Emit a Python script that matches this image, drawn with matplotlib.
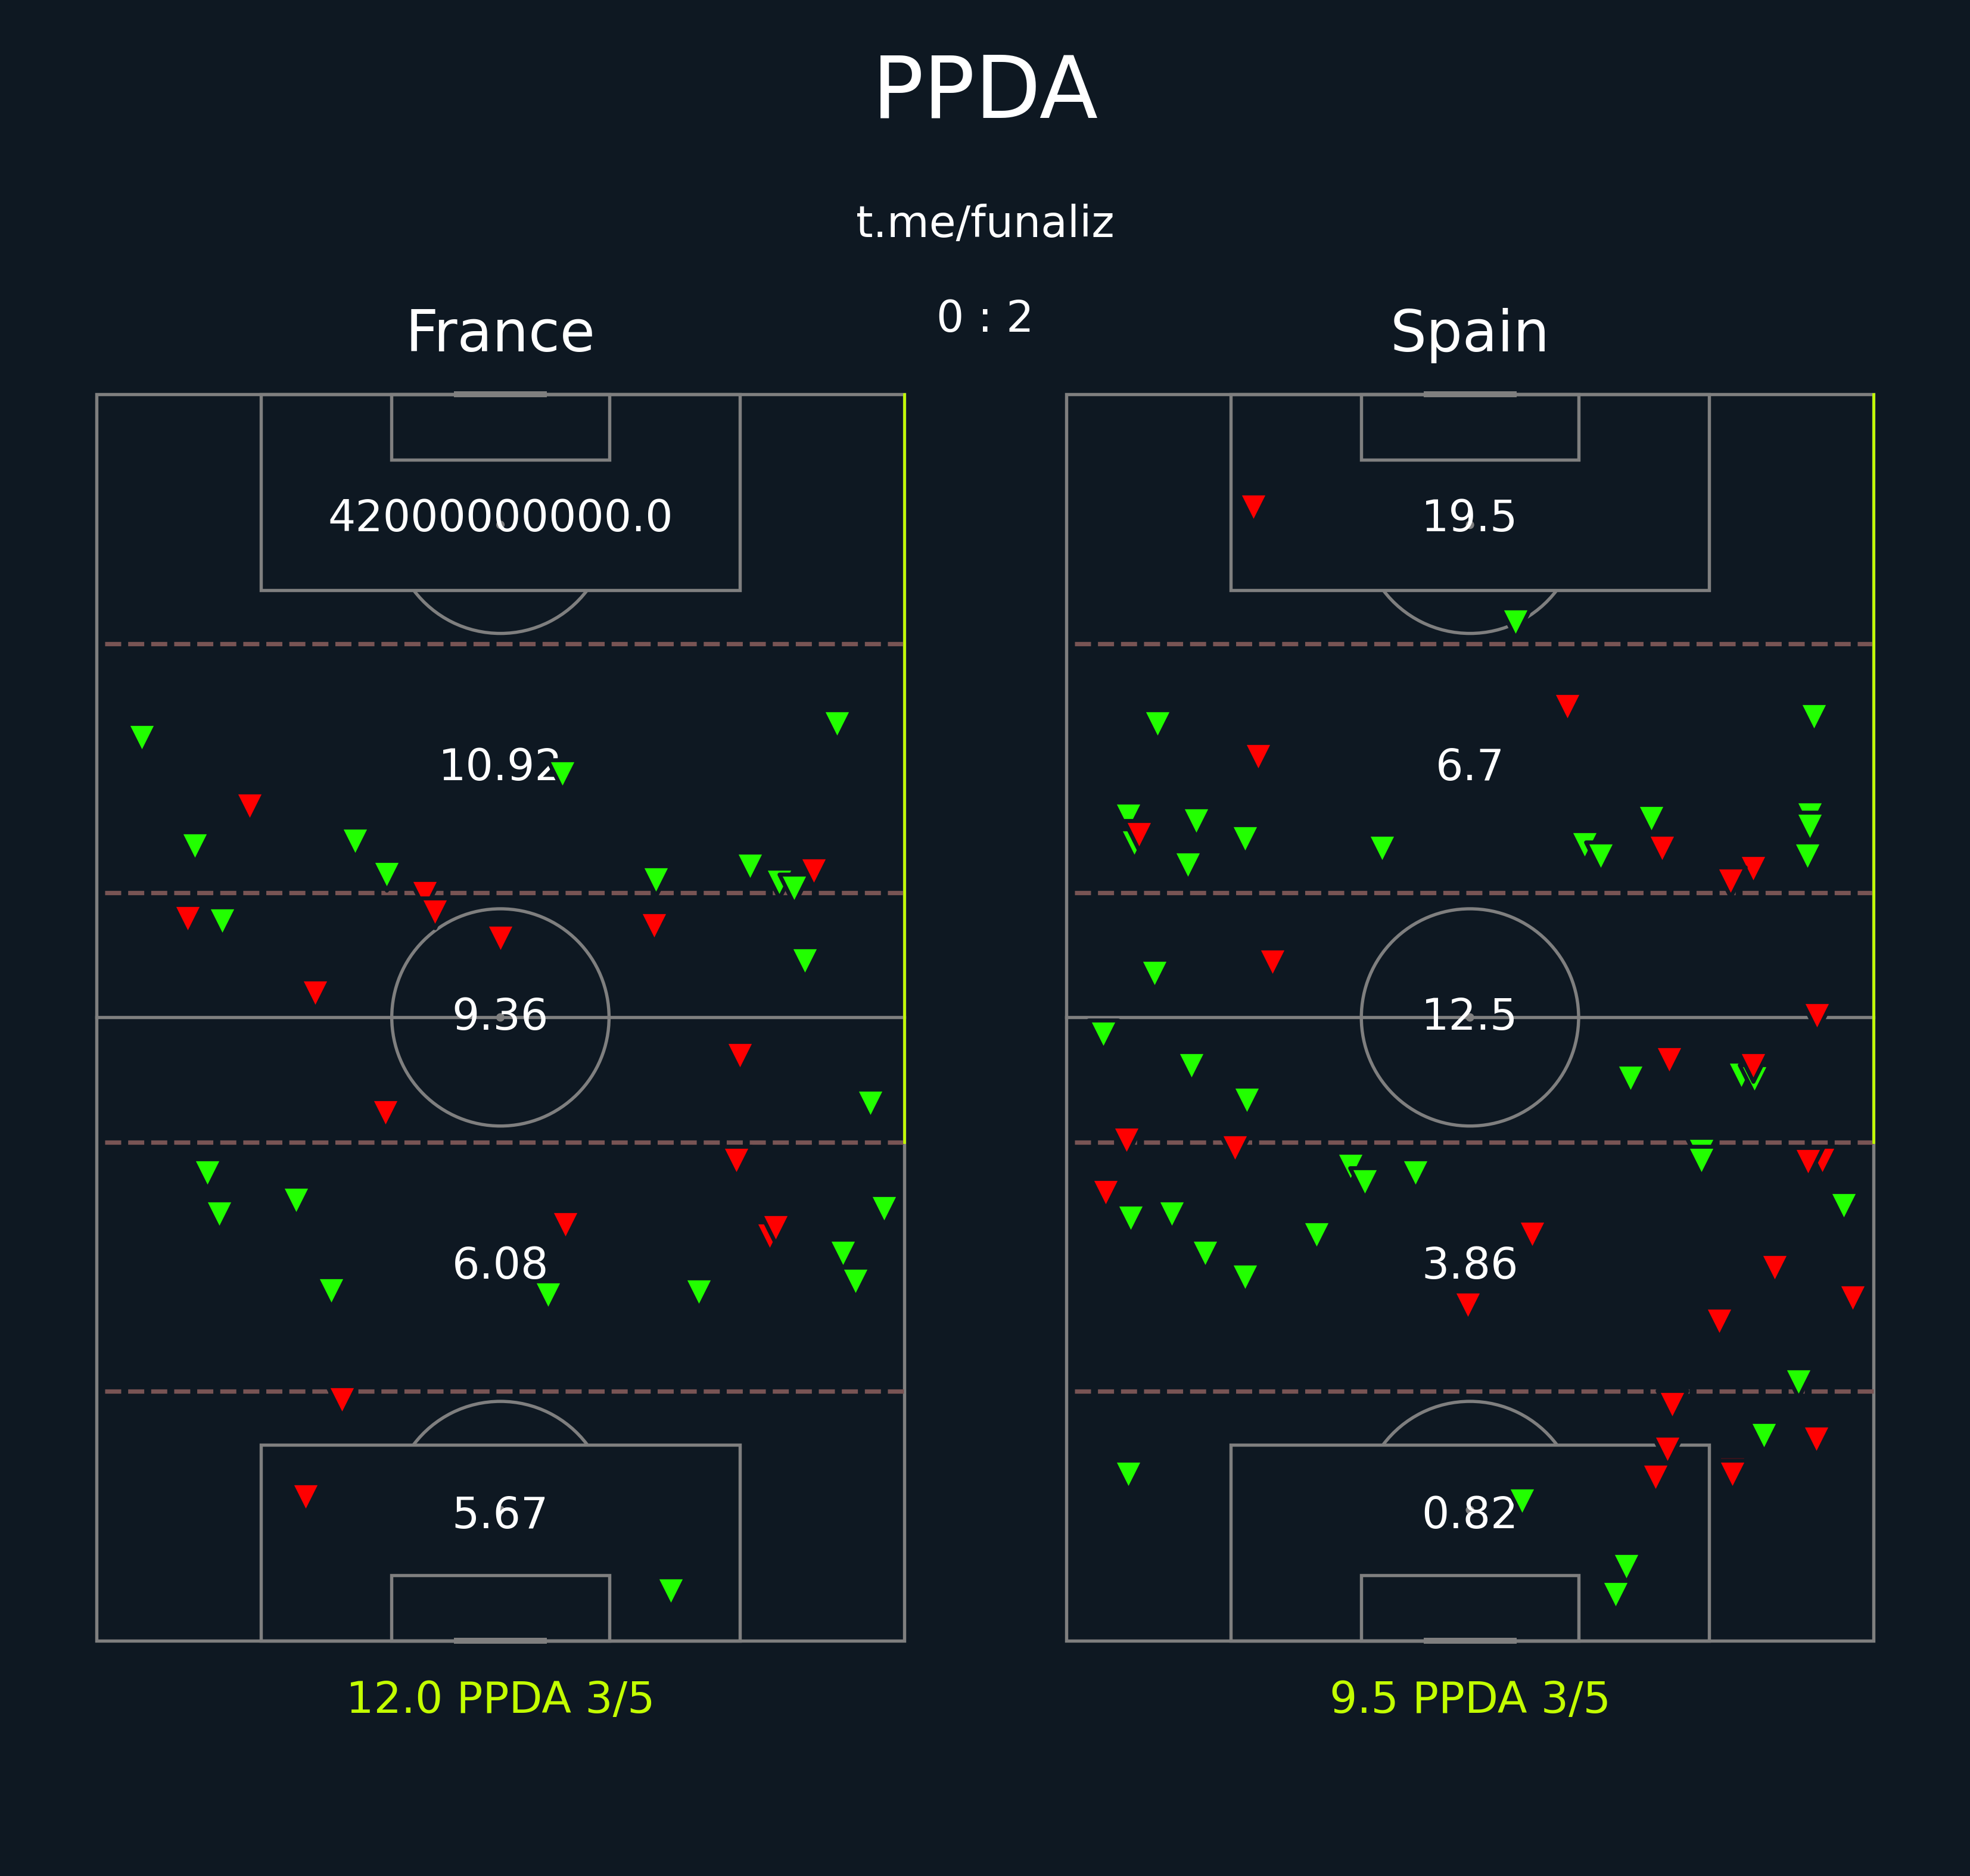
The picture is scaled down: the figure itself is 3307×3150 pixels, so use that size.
import matplotlib.pyplot as plt
from matplotlib.patches import Rectangle, Circle, Arc

# colours
BG = '#0e1822'
LINE = '#7f7f7f'
ZONE = '#785454'
LIME = '#c3ff00'
GREEN = '#22ff00'
RED = '#ff0000'

# match info
teams = ['France', 'Spain']
score = [0, 2]
ppda = [12.0, 9.5]
press_zones = [3, 3]

# ppda per zone, from own goal (bottom) to opponent goal (top)
france_zones = [5.67, 6.08, 9.36, 10.92, 42000000000.0]
spain_zones = [0.82, 3.86, 12.5, 6.7, 19.5]

# defensive actions (x across 0-68, y along 0-105)
france_green_x = [3.80, 62.36, 39.21, 8.28, 21.75, 24.40, 10.56, 47.09, 55.01, 57.48, 58.73, 59.62,
                  65.17, 9.31, 10.30, 16.79, 66.29, 62.85, 63.88, 19.74, 38.00, 50.72, 48.34]
france_green_y = [75.99, 77.15, 72.92, 66.87, 67.25, 64.44, 60.53, 64.01, 65.14, 63.80, 63.31, 57.18,
                  45.21, 39.30, 35.85, 37.01, 36.30, 32.57, 30.18, 29.37, 29.01, 29.26, 4.12]
france_red_x = [12.85, 27.62, 28.47, 7.65, 34.02, 18.40, 46.96, 60.38,
                54.16, 24.31, 53.89, 39.48, 56.67, 57.16, 20.64, 17.59]
france_red_y = [70.21, 62.85, 61.30, 60.74, 59.08, 54.47, 60.14, 64.75,
                49.19, 44.40, 40.35, 34.93, 33.98, 34.68, 20.21, 12.01]

spain_green_x = [37.81, 62.99, 7.66, 5.24, 5.73, 10.93, 15.05, 10.26, 26.61, 43.64, 45.03, 49.28,
                 62.63, 62.63, 62.41, 7.44, 3.09, 10.53, 15.19, 5.42, 8.87, 11.69, 15.05, 21.06,
                 23.92, 25.13, 29.39, 47.54, 56.85, 57.93, 53.49, 53.49, 65.46, 61.65, 58.78,
                 5.20, 38.40, 47.18, 46.24]
spain_green_y = [85.74, 77.75, 77.15, 69.37, 67.11, 68.98, 67.46, 65.25, 66.65, 66.97, 66.02, 69.15,
                 69.47, 68.52, 66.02, 56.13, 50.99, 48.35, 45.42, 35.53, 35.85, 32.57, 30.53, 34.08,
                 39.86, 38.59, 39.30, 47.29, 47.54, 47.25, 41.13, 40.39, 36.58, 21.69, 17.18,
                 13.91, 11.69, 6.13, 3.80]
spain_red_x = [15.77, 42.20, 16.17, 6.14, 50.18, 57.84, 55.96, 17.34, 63.22,
               5.06, 14.20, 3.32, 39.25, 33.83, 50.76, 57.84, 63.68, 62.46, 59.65, 66.22,
               54.97, 51.03, 63.17, 50.63, 49.60, 56.09, 56.09]
spain_red_y = [95.42, 78.59, 74.40, 67.82, 66.65, 64.96, 63.91, 57.08, 52.57,
               42.08, 41.41, 37.64, 34.15, 28.20, 48.87, 48.35, 40.39, 40.25, 31.34, 28.80,
               26.83, 19.79, 16.87, 16.02, 13.70, 14.26, 13.91]

W, H, DPI = 3307, 3150, 300
PX_M = 19.93
LENGTH, WIDTH = 105, 68
PAD = 3


def draw_pitch(ax):
    lw = 1.3
    kw = dict(fill=False, ec=LINE, lw=lw, zorder=1)
    ax.add_patch(Rectangle((0, 0), WIDTH, LENGTH, **kw))
    ax.plot([0, WIDTH], [LENGTH / 2, LENGTH / 2], color=LINE, lw=lw, zorder=1)
    ax.add_patch(Circle((WIDTH / 2, LENGTH / 2), 9.15, **kw))
    ax.add_patch(Circle((WIDTH / 2, LENGTH / 2), 0.25, color=LINE, zorder=1))
    box_w, six_w = 40.32, 18.32
    for y0, sign in [(0, 1), (LENGTH, -1)]:
        ax.add_patch(Rectangle((WIDTH / 2 - box_w / 2, y0), box_w, 16.5 * sign, **kw))
        ax.add_patch(Rectangle((WIDTH / 2 - six_w / 2, y0), six_w, 5.5 * sign, **kw))
        spot = y0 + 11 * sign
        ax.add_patch(Circle((WIDTH / 2, spot), 0.25, color=LINE, zorder=1))
        if sign == 1:
            ax.add_patch(Arc((WIDTH / 2, spot), 18.3, 18.3, theta1=37, theta2=143,
                             ec=LINE, lw=lw, zorder=1))
        else:
            ax.add_patch(Arc((WIDTH / 2, spot), 18.3, 18.3, theta1=217, theta2=323,
                             ec=LINE, lw=lw, zorder=1))
        ax.plot([WIDTH / 2 - 3.66, WIDTH / 2 + 3.66], [y0, y0], color=LINE, lw=2.4,
                solid_capstyle='projecting', zorder=1)


fig = plt.figure(figsize=(W / DPI, H / DPI), dpi=DPI, facecolor=BG)

pitch_left = [162.4, 1790.0]
pitch_top = 662.0
zone_vals = [france_zones, spain_zones]
greens = [(france_green_x, france_green_y), (spain_green_x, spain_green_y)]
reds = [(france_red_x, france_red_y), (spain_red_x, spain_red_y)]

for i in range(2):
    left = (pitch_left[i] - PAD * PX_M) / W
    bottom = 1 - (pitch_top + (LENGTH + PAD) * PX_M) / H
    ax = fig.add_axes([left, bottom, (WIDTH + 2 * PAD) * PX_M / W, (LENGTH + 2 * PAD) * PX_M / H])
    ax.set_xlim(-PAD, WIDTH + PAD)
    ax.set_ylim(-PAD, LENGTH + PAD)
    ax.set_facecolor(BG)
    ax.axis('off')
    draw_pitch(ax)

    zone_len = LENGTH / 5
    for k in range(1, 5):
        ax.plot([0.7, WIDTH], [k * zone_len, k * zone_len], color=ZONE, lw=1.75,
                ls='--', zorder=2)
    ax.plot([WIDTH, WIDTH], [LENGTH - press_zones[i] * zone_len, LENGTH], color=LIME,
            lw=1.1, zorder=3)

    for k, v in enumerate(zone_vals[i]):
        ax.text(WIDTH / 2, zone_len * (k + 0.5), str(v), color='white', fontsize=17.5,
                ha='center', va='center', zorder=4)

    ax.scatter(greens[i][0], greens[i][1], marker='v', s=144, color=GREEN,
               edgecolors=BG, linewidths=1.6, zorder=5)
    ax.scatter(reds[i][0], reds[i][1], marker='v', s=144, color=RED,
               edgecolors=BG, linewidths=1.6, zorder=6)

    cx = (pitch_left[i] + WIDTH * PX_M / 2) / W
    fig.text(cx, 0.8127, teams[i], color='white', fontsize=23, ha='center', va='baseline')
    fig.text(cx, 0.0871, f"{ppda[i]} PPDA {press_zones[i]}/5", color=LIME, fontsize=17.5,
             ha='center', va='baseline')

fig.text(0.5, 0.9372, 'PPDA', color='white', fontsize=34.5, ha='center', va='baseline')
fig.text(0.5, 0.8735, 't.me/funaliz', color='white', fontsize=17.5, ha='center', va='baseline')
fig.text(0.5, 0.8233, f"{score[0]} : {score[1]}", color='white', fontsize=17.5,
         ha='center', va='baseline')

fig.savefig('out.png', dpi=DPI, facecolor=BG)
